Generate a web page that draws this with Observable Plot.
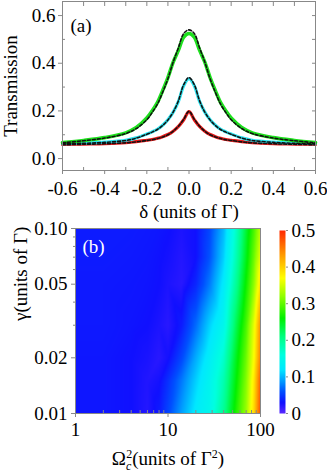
<!DOCTYPE html>
<html><head><meta charset="utf-8">
<script src="https://cdn.jsdelivr.net/npm/d3@7"></script>
<script src="https://cdn.jsdelivr.net/npm/@observablehq/plot@0.6"></script>
<style>
body{margin:0;background:#fff;}
#wrap{position:relative;width:327px;height:472px;overflow:hidden;background:#fff;}
#wrap svg{position:absolute;}
</style></head><body><div id="wrap"></div>
<script>
// ---------- Panel (a) data ----------
const delta = [-0.6,-0.5,-0.4,-0.3,-0.25,-0.2,-0.175,-0.15,-0.125,-0.1,-0.075,-0.05,-0.025,0,0.025,0.05,0.075,0.1,0.125,0.15,0.175,0.2,0.25,0.3,0.4,0.5,0.6];
const greenT = [0.067,0.076,0.088,0.108,0.13,0.17,0.2,0.235,0.285,0.34,0.405,0.455,0.51,0.525,0.51,0.455,0.405,0.34,0.285,0.235,0.2,0.17,0.13,0.108,0.088,0.076,0.067];
const greenFit = [0.066,0.075,0.086,0.105,0.126,0.163,0.193,0.228,0.278,0.335,0.405,0.465,0.525,0.54,0.525,0.465,0.405,0.335,0.278,0.228,0.193,0.163,0.126,0.105,0.086,0.075,0.066];
const cyanT = [0.063,0.065,0.069,0.077,0.087,0.103,0.112,0.123,0.14,0.163,0.195,0.24,0.306,0.335,0.306,0.24,0.195,0.163,0.14,0.123,0.112,0.103,0.087,0.077,0.069,0.065,0.063];
const cyanFit = [0.062,0.064,0.068,0.076,0.086,0.102,0.111,0.122,0.139,0.162,0.195,0.243,0.31,0.34,0.31,0.243,0.195,0.162,0.139,0.122,0.111,0.102,0.086,0.076,0.068,0.064,0.062];
const redT = [0.059,0.061,0.063,0.067,0.071,0.077,0.08,0.085,0.092,0.101,0.115,0.135,0.163,0.197,0.163,0.135,0.115,0.101,0.092,0.085,0.08,0.077,0.071,0.067,0.063,0.061,0.059];
const redFit = [0.058,0.06,0.062,0.066,0.07,0.076,0.079,0.084,0.091,0.1,0.115,0.136,0.165,0.198,0.165,0.136,0.115,0.1,0.091,0.084,0.079,0.076,0.07,0.066,0.062,0.06,0.058];
const xTicksA = [-0.6,-0.4,-0.2,0,0.2,0.4,0.6];
const xMinorA = [-0.5,-0.3,-0.1,0.1,0.3,0.5];
const yTicksA = [0,0.2,0.4,0.6];
const yMinorA = [0.1,0.3,0.5];

// ---------- Panel (b) data ----------
const omegaSq = [1,2,4,6,8,10,14,20,28,40,55,70,85,100];
const gammaVals = [0.01,0.015,0.02,0.03,0.05,0.07,0.1];
const T_g0010 = [0.033,0.033,0.03,0.022,0.035,0.055,0.09,0.125,0.145,0.2,0.275,0.325,0.395,0.48];
const T_g0015 = [0.033,0.033,0.03,0.023,0.028,0.045,0.075,0.11,0.14,0.185,0.26,0.315,0.385,0.47];
const T_g0020 = [0.033,0.033,0.03,0.026,0.02,0.028,0.055,0.095,0.13,0.17,0.25,0.305,0.37,0.45];
const T_g0030 = [0.034,0.034,0.032,0.03,0.025,0.02,0.035,0.07,0.11,0.145,0.23,0.29,0.36,0.44];
const T_g0050 = [0.034,0.034,0.033,0.032,0.03,0.025,0.02,0.04,0.075,0.125,0.2,0.265,0.32,0.39];
const T_g0070 = [0.035,0.035,0.034,0.033,0.031,0.028,0.022,0.03,0.06,0.11,0.185,0.25,0.305,0.36];
const T_g0100 = [0.035,0.035,0.035,0.034,0.033,0.031,0.025,0.03,0.055,0.1,0.175,0.24,0.29,0.34];
const xTicksB = [1,10,100];
const xMinorB = [2,3,4,5,6,7,8,9,20,30,40,50,60,70,80,90];
const yTicksB = [0.01,0.02,0.05,0.1];
const yMinorB = [0.03,0.04,0.06,0.07,0.08,0.09];
const cbTicks = [0,0.1,0.2,0.3,0.4,0.5];

// colour map (rainbow)
const cmapDomain = [0,0.03,0.06,0.09,0.12,0.16,0.21,0.26,0.32,0.37,0.43,0.5];
const cmapRange = ["#5a28ff","#1010ff","#0050ff","#00a0ff","#00e8ff","#00ffe0","#00ff80","#00f000","#90ff00","#ffff00","#ffa000","#ff2800"];

const FONT = "'Liberation Serif','Times New Roman',serif";
const GRAY = "#888";
const wrap = document.getElementById("wrap");

function mk(vals, name){ return delta.map((d,i)=>({delta:d, T:vals[i], series:name})); }
const lines = {green:mk(greenT,"g"), cyan:mk(cyanT,"c"), red:mk(redT,"r"),
  gf:mk(greenFit,"gf"), cf:mk(cyanFit,"cf"), rf:mk(redFit,"rf")};
const blank = () => "";
const CURVE = "catmull-rom";

const plotA = Plot.plot({
  width: 327, height: 222,
  marginLeft: 62, marginRight: 12, marginTop: 1, marginBottom: 52,
  style: {fontFamily: FONT, fontSize: "19px", color: "#000", background: "transparent", overflow: "visible"},
  x: {domain: [-0.6, 0.6]},
  y: {domain: [-0.05, 0.659]},
  marks: [
    Plot.line(lines.red, {x:"delta", y:"T", stroke:"#e81818", strokeWidth:3.2, curve:CURVE}),
    Plot.line(lines.cyan, {x:"delta", y:"T", stroke:"#2ee6f2", strokeWidth:3.2, curve:CURVE}),
    Plot.line(lines.green, {x:"delta", y:"T", stroke:"#1ee01e", strokeWidth:3.6, curve:CURVE}),
    Plot.line(lines.rf, {x:"delta", y:"T", stroke:"#111", strokeWidth:1.6, strokeDasharray:"3,2", curve:CURVE}),
    Plot.line(lines.cf, {x:"delta", y:"T", stroke:"#111", strokeWidth:1.6, strokeDasharray:"3,2", curve:CURVE}),
    Plot.line(lines.gf, {x:"delta", y:"T", stroke:"#111", strokeWidth:1.6, strokeDasharray:"3,2", curve:CURVE}),
    Plot.frame({stroke: GRAY}),
    Plot.axisY({ticks: yTicksA, tickFormat: d => d.toFixed(1), tickSize: 4, tickPadding: 3, stroke: GRAY,
      label: "Transmission", labelAnchor: "center", labelArrow: "none", labelOffset: 59}),
    Plot.axisY({ticks: yMinorA, tickFormat: blank, tickSize: -3, stroke: GRAY, label: null}),
    Plot.axisY({anchor: "right", ticks: yTicksA.concat(yMinorA), tickFormat: blank, tickSize: -4, stroke: GRAY, label: null}),
    Plot.axisX({ticks: xTicksA, tickFormat: d => d.toFixed(1), tickSize: 4, tickPadding: 7, stroke: GRAY, label: null}),
    Plot.axisX({ticks: xMinorA, tickFormat: blank, tickSize: -3, stroke: GRAY, label: null}),
    Plot.axisX({anchor: "top", ticks: xTicksA.concat(xMinorA), tickFormat: blank, tickSize: -4, stroke: GRAY, label: null}),
    Plot.text(["(a)"], {frameAnchor: "top-left", dx: 8, dy: 24, textAnchor: "start", lineAnchor: "middle", fontSize: 19}),
    Plot.text(["δ (units of Γ)"], {frameAnchor: "bottom", dy: 41, lineAnchor: "middle", fontSize: 19})
  ]
});
plotA.style.left = "0px"; plotA.style.top = "0px";
wrap.appendChild(plotA);

// heatmap table
const rows = [T_g0010,T_g0015,T_g0020,T_g0030,T_g0050,T_g0070,T_g0100];
const heat = [];
gammaVals.forEach((g,j) => omegaSq.forEach((o,i) => heat.push({omega:o, gamma:g, T:rows[j][i]})));
const colorOpts = {type: "linear", domain: cmapDomain, range: cmapRange, clamp: true};

const plotB = Plot.plot({
  width: 270, height: 254,
  marginLeft: 75, marginRight: 10, marginTop: 10, marginBottom: 59,
  style: {fontFamily: FONT, fontSize: "19px", color: "#000", background: "transparent", overflow: "visible"},
  x: {type: "log", domain: [1, 100]},
  y: {type: "log", domain: [0.01, 0.1]},
  color: colorOpts,
  marks: [
    Plot.raster(heat, {x: "omega", y: "gamma", fill: "T", interpolate: "barycentric"}),
    Plot.frame({stroke: GRAY}),
    Plot.axisY({ticks: yTicksB, tickFormat: d => d.toFixed(2), tickSize: 4, tickPadding: 4, stroke: GRAY, label: null}),
    Plot.axisY({ticks: yMinorB, tickFormat: blank, tickSize: 2, stroke: GRAY, label: null}),
    Plot.axisX({ticks: xTicksB, tickFormat: d => String(d), tickSize: 4, tickPadding: 5, stroke: GRAY, label: null}),
    Plot.axisX({ticks: xMinorB, tickFormat: blank, tickSize: -3, stroke: GRAY, label: null}),
    Plot.text(["(b)"], {frameAnchor: "top-left", dx: 7, dy: 18, textAnchor: "start", lineAnchor: "middle", fill: "white", fontSize: 19}),
    Plot.text(["γ(units of Γ)"], {frameAnchor: "left", dx: -55, rotate: -90, lineAnchor: "middle", fontSize: 19}),
    Plot.text(["Ωc2(units of Γ2)"], {frameAnchor: "bottom", dy: 45, lineAnchor: "middle", fontSize: 19, className: "xlabB"})
  ]
});
plotB.style.left = "0px"; plotB.style.top = "218px";
wrap.appendChild(plotB);

// subscript / superscript in the x label of panel (b)
const t = d3.select(plotB).select(".xlabB text");
if (!t.empty()) {
  t.text(null);
  t.append("tspan").text("Ω");
  t.append("tspan").attr("font-size", 12).attr("font-style", "italic").attr("dy", 5).text("c");
  t.append("tspan").attr("font-size", 12).attr("dx", -5).attr("dy", -12).text("2");
  t.append("tspan").attr("dy", 7).text("(units of Γ");
  t.append("tspan").attr("font-size", 12).attr("dy", -7).text("2");
  t.append("tspan").attr("dy", 7).text(")");
}

const plotC = Plot.plot({
  width: 57, height: 254,
  marginLeft: 9, marginRight: 42, marginTop: 12, marginBottom: 59,
  style: {fontFamily: FONT, fontSize: "19px", color: "#000", background: "transparent", overflow: "visible"},
  x: {domain: [0, 1], axis: null},
  y: {domain: [0, 0.5]},
  color: colorOpts,
  marks: [
    Plot.raster({fill: (x, y) => y, x1: 0, x2: 1, y1: 0, y2: 0.5}),
    Plot.axisY({anchor: "right", ticks: cbTicks, tickFormat: d => d === 0 ? "0" : d.toFixed(1), tickSize: 2, tickPadding: 4, stroke: GRAY, label: null})
  ]
});
plotC.style.left = "270px"; plotC.style.top = "218px";
wrap.appendChild(plotC);
</script></body></html>
